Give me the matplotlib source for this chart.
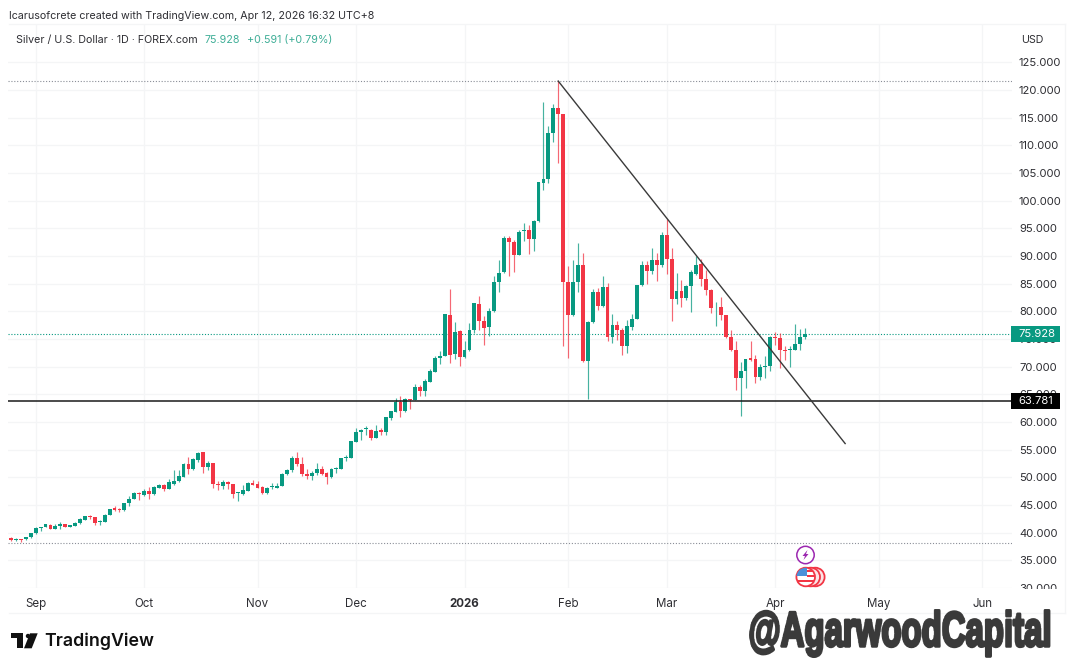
import matplotlib
matplotlib.use("Agg")
import matplotlib.pyplot as plt
from matplotlib.patches import Circle, Polygon, Rectangle
from matplotlib.transforms import Bbox
import matplotlib.patheffects as pe
import numpy as np

# daily candles
opens = [39.07, 38.71, 38.89, 38.77, 39.13, 39.85, 40.81, 41.05, 41.42, 40.75, 41.12, 41.54, 41.05, 41.24, 41.66, 42.32,
         42.98, 42.74, 41.9, 41.9, 43.28, 44.42, 44.36, 44.06, 45.27, 46.17, 47.13, 46.83, 47.49, 47.01, 48.16, 48.64,
         47.91, 48.88, 49.36, 50.14, 52.43, 51.52, 53.15, 54.53, 51.95, 52.67, 48.88, 48.52, 49.12, 48.82, 47.13, 47.01,
         47.61, 49.06, 48.82, 48.28, 47.19, 48.22, 48.16, 48.4, 50.56, 51.28, 53.45, 52.49, 50.62, 50.32, 50.74, 51.52,
         50.86, 50.14, 51.58, 51.58, 53.45, 53.51, 56.46, 58.14, 58.74, 58.62, 57.12, 58.5, 58.26, 60.73, 61.87, 63.68,
         61.93, 64.22, 63.92, 66.32, 65.66, 67.23, 69.09, 71.5, 71.98, 79.38, 72.22, 76.37, 71.68, 72.94, 76.61, 81.37,
         78.3, 77.1, 79.98, 85.28, 87.02, 93.28, 92.56, 90.21, 94.42, 94.72, 93.1, 96.23, 103.27, 103.87, 112.18, 116.81,
         115.67, 85.28, 79.26, 85.22, 88.29, 70.96, 78.0, 83.42, 80.89, 84.38, 75.29, 77.46, 76.68, 73.67, 77.16, 78.6,
         84.68, 88.29, 87.21, 89.25, 88.35, 93.83, 89.37, 82.15, 83.66, 82.33, 84.56, 86.79, 88.59, 85.76, 83.9, 80.71,
         80.77, 79.39, 75.42, 72.95, 67.95, 69.28, 71.5, 71.32, 68.07, 69.94, 70.18, 75.42, 75.23, 73.07, 72.95, 73.07,
         74.09, 75.34]
highs = [39.19, 39.01, 38.89, 39.3, 39.97, 40.95, 41.05, 41.6, 41.5, 41.54, 41.84, 41.6, 41.4, 41.96, 42.62, 43.0,
         43.16, 42.86, 42.26, 43.3, 44.35, 44.78, 44.54, 45.42, 46.71, 47.37, 47.31, 47.97, 48.28, 48.4, 48.88, 48.82,
         49.72, 51.4, 51.4, 52.5, 53.75, 53.51, 54.53, 54.65, 53.03, 52.67, 49.42, 49.6, 49.3, 48.82, 47.31, 48.64,
         49.1, 49.6, 49.36, 48.4, 48.28, 49.0, 49.0, 50.75, 51.52, 53.87, 54.65, 53.69, 51.52, 51.22, 52.61, 52.0,
         50.98, 51.64, 51.88, 53.55, 54.05, 56.6, 58.99, 58.74, 59.22, 58.74, 59.4, 58.92, 60.91, 62.05, 64.34, 64.76,
         64.34, 64.22, 66.93, 66.75, 67.77, 69.57, 71.98, 72.82, 79.5, 84.08, 78.06, 76.67, 74.69, 77.88, 81.49, 82.81,
         79.08, 80.58, 86.42, 89.19, 93.64, 93.64, 92.92, 94.72, 95.93, 95.63, 96.53, 103.4, 117.77, 113.5, 117.47, 121.68,
         115.67, 88.11, 89.31, 92.32, 90.52, 78.18, 84.08, 84.2, 86.43, 85.1, 79.5, 78.3, 76.98, 78.48, 79.57, 84.8,
         89.13, 89.01, 91.42, 90.52, 94.25, 96.72, 91.42, 86.91, 85.58, 84.8, 87.39, 89.92, 89.43, 87.51, 84.02, 81.67,
         82.58, 79.39, 76.68, 74.57, 70.84, 71.4, 74.63, 72.17, 70.54, 71.87, 75.48, 76.26, 76.08, 73.67, 73.67, 77.7,
         76.8, 76.92]
lows = [38.53, 38.47, 38.29, 38.7, 39.1, 39.8, 40.39, 41.0, 40.6, 40.69, 40.75, 41.0, 41.0, 41.18, 41.6, 42.3,
        42.5, 41.3, 41.42, 41.85, 43.25, 43.88, 43.82, 44.0, 44.78, 46.11, 45.99, 46.71, 46.11, 46.77, 48.03, 47.49,
        47.9, 48.7, 49.18, 50.1, 50.56, 51.4, 52.73, 50.8, 51.4, 48.1, 47.73, 47.97, 47.91, 46.29, 45.69, 46.89,
        47.55, 48.58, 48.03, 47.01, 47.07, 47.85, 48.03, 48.35, 50.44, 50.98, 52.13, 50.2, 49.72, 49.6, 50.5, 50.38,
        48.76, 49.96, 50.8, 51.5, 52.91, 53.45, 56.34, 56.82, 57.72, 56.82, 57.1, 57.72, 57.72, 60.43, 61.81, 60.91,
        61.75, 62.35, 63.9, 64.76, 64.76, 67.17, 68.97, 70.42, 71.9, 70.66, 71.38, 70.18, 71.62, 72.9, 76.07, 76.55,
        73.97, 75.59, 79.9, 83.53, 86.9, 86.42, 87.02, 90.1, 92.62, 90.39, 90.93, 96.15, 101.95, 103.15, 110.67, 106.76,
        73.67, 71.56, 79.2, 83.42, 70.78, 64.22, 77.88, 80.17, 80.8, 74.57, 74.27, 74.87, 72.17, 72.47, 76.68, 78.55,
        84.6, 84.98, 86.73, 85.4, 87.93, 86.73, 78.18, 81.37, 80.71, 82.09, 79.81, 86.61, 84.62, 82.99, 79.69, 77.28,
        78.48, 75.12, 72.77, 65.73, 61.16, 66.15, 70.96, 67.05, 67.65, 67.95, 69.16, 73.97, 69.76, 71.26, 69.94, 73.0,
        73.07, 74.99]
closes = [38.65, 38.89, 38.71, 39.25, 39.97, 40.93, 41.05, 41.54, 40.69, 41.18, 41.54, 41.05, 41.36, 41.72, 42.38, 42.92,
          42.8, 41.66, 42.08, 43.28, 44.3, 44.18, 44.06, 45.39, 46.17, 47.13, 46.95, 47.55, 47.07, 48.22, 48.7, 47.85,
          49.12, 49.42, 50.2, 52.43, 51.46, 53.33, 54.41, 51.95, 52.67, 48.76, 48.64, 49.12, 48.88, 47.01, 47.31, 47.79,
          49.06, 48.7, 48.16, 47.19, 48.16, 48.4, 48.52, 50.68, 51.34, 53.51, 52.37, 50.56, 50.32, 50.86, 51.52, 50.68,
          50.14, 51.52, 51.76, 53.51, 53.69, 56.58, 58.2, 58.62, 58.86, 57.18, 58.44, 58.26, 60.85, 61.93, 63.68, 61.99,
          64.22, 63.98, 66.38, 65.54, 67.35, 69.15, 71.62, 71.98, 79.44, 72.16, 76.31, 71.68, 73.0, 76.61, 81.43, 78.3,
          77.04, 80.04, 85.28, 86.9, 93.28, 92.5, 90.21, 94.36, 94.6, 93.1, 96.29, 103.33, 103.93, 112.18, 116.81, 115.67,
          85.34, 79.26, 85.22, 88.29, 70.96, 78.0, 83.42, 80.89, 84.38, 75.29, 77.46, 76.68, 73.67, 77.34, 78.6, 84.74,
          88.29, 87.21, 89.25, 88.41, 93.83, 89.37, 82.15, 83.66, 82.33, 84.56, 87.15, 88.35, 85.76, 83.84, 80.65, 80.83,
          79.33, 75.36, 72.95, 67.95, 69.28, 71.38, 71.26, 68.07, 69.94, 70.18, 75.36, 75.23, 73.07, 72.89, 73.13, 74.09,
          75.42, 75.93]

price_ticks = [30, 35, 40, 45, 50, 55, 60, 65, 70, 75, 80, 85, 90, 95, 100, 105, 110, 115, 120, 125]
month_labels = ["Sep", "Oct", "Nov", "Dec", "2026", "Feb", "Mar", "Apr", "May", "Jun"]
month_bars = [5, 27, 50, 70, 92, 113, 133, 155, 176, 197]

last_price = 75.928
support_price = 63.781
peak_line = 121.6
floor_line = 38.2
trend_x = [111, 169.2]
trend_y = [121.6, 56.1]

GREEN = "#089981"
RED = "#F23645"
TEXT = "#2e2e33"
GRID = "#f4f5f6"
WATERMARK_W = 302  # px


def squeeze_wide(image, dpi):
    # condensed look for the watermark, no narrow font is installed
    h, w = image.shape[:2]
    new_w = min(WATERMARK_W, w)
    cols = np.linspace(0, w - 1, new_w)
    out = np.zeros((h, new_w, image.shape[2]), dtype=image.dtype)
    for k in range(image.shape[2]):
        for row in range(h):
            out[row, :, k] = np.interp(cols, np.arange(w), image[row, :, k])
    return out, w - new_w, 0


plt.rcParams["font.family"] = ["Inter", "DejaVu Sans"]

fig = plt.figure(figsize=(10.8, 6.68), dpi=100, facecolor="white")
ax = fig.add_axes([8 / 1080, 1 - 588 / 668, 1004 / 1080, 564 / 668])
ax.set_xlim((8 - 11) / 4.93, (1012 - 11) / 4.93)
ax.set_ylim(120 - (588 - 90) / 5.54, 120 - (24 - 90) / 5.54)
for s in ax.spines.values():
    s.set_visible(False)

# grid
ax.set_axisbelow(True)
ax.grid(True, color=GRID, lw=0.9)
ax.set_xticks(month_bars, month_labels)
ax.set_yticks(price_ticks, [f"{p:.3f}" for p in price_ticks])
ax.yaxis.tick_right()
ax.tick_params(axis="both", length=0, labelcolor=TEXT)
ax.tick_params(axis="y", pad=5, labelsize=8.1)
ax.tick_params(axis="x", pad=7, labelsize=8.3)
for lab in ax.get_xticklabels():
    if lab.get_text() == "2026":
        lab.set_fontweight("bold")
# the lowest price label is cut by the time scale
for lab in ax.get_yticklabels():
    lab.set_clip_on(True)
    lab.set_clip_box(Bbox([[1012, 668 - 589], [1080, 668]]))

# reference lines
ax.axhline(peak_line, color="#8a8e97", lw=0.8, ls=(0, (1, 1.6)))
ax.axhline(floor_line, color="#8a8e97", lw=0.8, ls=(0, (1, 1.6)))
ax.axhline(last_price, color=GREEN, lw=0.8, ls=(0, (1, 1.6)), zorder=1.6)

# candles
x = np.arange(len(opens))
o = np.array(opens)
c = np.array(closes)
colors = [GREEN if b >= a else RED for a, b in zip(opens, closes)]
ax.vlines(x, lows, highs, colors=colors, lw=0.85, alpha=0.75, zorder=2)
ax.bar(x, np.abs(c - o), bottom=np.minimum(o, c), width=0.78, color=colors, linewidth=0, zorder=2.2)

# drawings
ax.axhline(support_price, color="#1a1a1a", lw=1.1, zorder=3)
ax.plot(trend_x, trend_y, color="#3a3a3a", lw=1.0, zorder=3)

# price tags
yaxis_tr = ax.get_yaxis_transform()
for value, tag_color in [(last_price, GREEN), (support_price, "black")]:
    ax.add_patch(Rectangle((0.999, value - 1.4), 0.0488, 2.8, transform=yaxis_tr, fc=tag_color, ec="none",
                           clip_on=False, zorder=4.9))
    ax.text(1.006, value, f"{value:.3f}", transform=yaxis_tr, color="white", fontsize=8.1, va="center",
            ha="left", clip_on=False, zorder=5)

# everything else sits in an overlay in picture pixels
ov = fig.add_axes([0, 0, 1, 1], facecolor="none")
ov.set_xlim(0, 1080)
ov.set_ylim(668, 0)
ov.axis("off")

ov.text(9, 16, "Icarusofcrete created with TradingView.com, Apr 12, 2026 16:32 UTC+8", fontsize=7.7, color=TEXT, va="center")
ov.text(16, 40, "Silver / U.S. Dollar · 1D · FOREX.com", fontsize=7.7, color=TEXT, va="center")
ov.text(205, 40, "75.928", fontsize=7.7, color="#3fae97", va="center")
ov.text(247, 40, "+0.591 (+0.79%)", fontsize=7.7, color="#3fae97", va="center")
ov.text(1021, 40, "USD", fontsize=7.7, color=TEXT, va="center")

# pane borders
ov.plot([1065, 1065], [24, 613], color=GRID, lw=0.9)
ov.plot([9, 1065], [613, 613], color=GRID, lw=0.9)
ov.plot([9, 1065], [24, 24], color=GRID, lw=0.9)

# event icons
ov.add_patch(Circle((805.5, 555), 8.7, fc="white", ec="#9c27b0", lw=1.1))
ov.add_patch(Polygon([(807.5, 550), (802.5, 556), (805, 556), (803.5, 560), (808.5, 554), (806, 554)],
                     fc="#9c27b0", ec="none"))
for cx in [815.3, 810.7]:
    ov.add_patch(Circle((cx, 577), 9.3, fc="#fbe3e5", ec=RED, lw=1.3))
flag = Circle((805.7, 577), 9.3, fc="white", ec=RED, lw=1.3, zorder=3)
ov.add_patch(flag)
for r in [Rectangle((796, 567), 11, 9, fc="#4a90d9", ec="none", zorder=3.1),
          Rectangle((807, 570), 9, 2.2, fc=RED, ec="none", zorder=3.1),
          Rectangle((807, 575), 9, 2.2, fc=RED, ec="none", zorder=3.1),
          Rectangle((796, 580), 20, 2.2, fc=RED, ec="none", zorder=3.1)]:
    ov.add_patch(r)
    r.set_clip_path(flag)

# TradingView logo
ov.add_patch(Polygon([(11, 633.3), (23.3, 633.3), (23.3, 648.3), (16.7, 648.3), (16.7, 638.3), (11, 638.3)], fc="#111111", ec="none"))
ov.add_patch(Circle((28, 636), 2.2, fc="#111111", ec="none"))
ov.add_patch(Polygon([(30, 633.3), (37.7, 633.3), (31.7, 648.3), (24, 648.3)], fc="#111111", ec="none"))
ov.text(44, 641, "TradingView", fontsize=12.8, fontweight="semibold", color="#111111", va="center")

# watermark
wm = ov.text(1052, 646, "@AgarwoodCapital", family=["Liberation Sans", "DejaVu Sans"], fontsize=35, fontweight="bold",
             color="#3a3a3a", va="baseline", ha="right",
             path_effects=[pe.withStroke(linewidth=2.5, foreground="#3a3a3a")])
wm.set_agg_filter(squeeze_wide)

fig.savefig("out.png", dpi=100, facecolor="white")
plt.close(fig)
